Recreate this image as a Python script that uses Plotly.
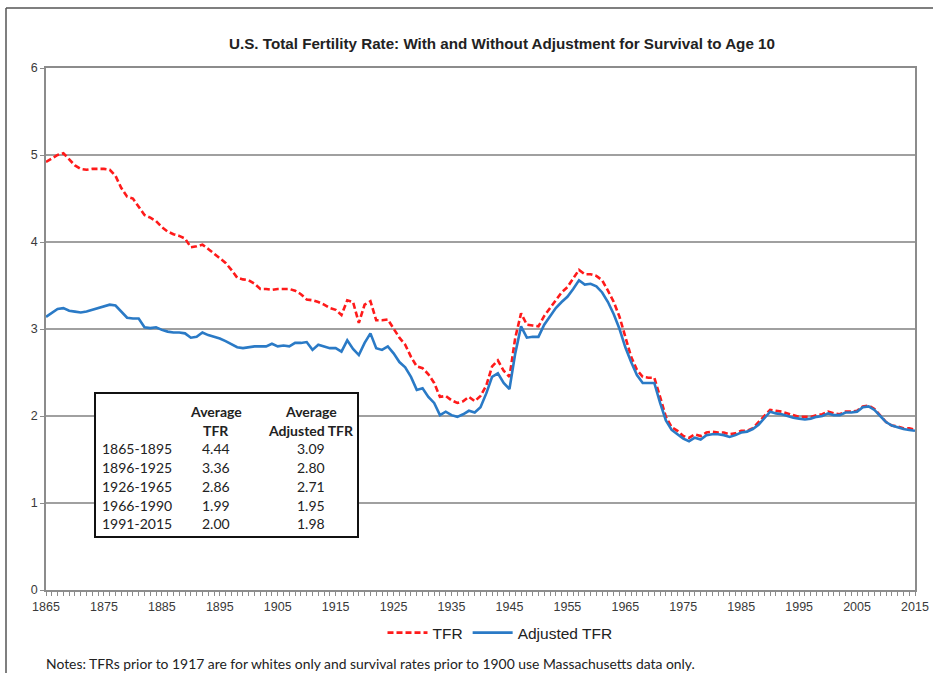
import plotly.graph_objects as go

years = list(range(1865, 2016))

tfr = [
    4.92, 4.96, 5.00, 5.02, 4.95, 4.88, 4.84, 4.83, 4.84, 4.84,  # 1865-1874
    4.84, 4.83, 4.76, 4.62, 4.52, 4.50, 4.40, 4.31, 4.28, 4.24,  # 1875-1884
    4.17, 4.12, 4.09, 4.07, 4.04, 3.94, 3.95, 3.97, 3.92, 3.87,  # 1885-1894
    3.82, 3.76, 3.68, 3.59, 3.57, 3.56, 3.52, 3.46, 3.46, 3.45,  # 1895-1904
    3.46, 3.46, 3.46, 3.44, 3.40, 3.34, 3.33, 3.31, 3.28, 3.24,  # 1905-1914
    3.22, 3.16, 3.33, 3.31, 3.07, 3.28, 3.32, 3.10, 3.10, 3.11,  # 1915-1924
    3.01, 2.90, 2.82, 2.68, 2.57, 2.55, 2.48, 2.38, 2.22, 2.23,  # 1925-1934
    2.18, 2.15, 2.17, 2.22, 2.17, 2.23, 2.35, 2.57, 2.64, 2.52,  # 1935-1944
    2.45, 2.90, 3.18, 3.05, 3.04, 3.03, 3.15, 3.24, 3.32, 3.42,  # 1945-1954
    3.48, 3.58, 3.68, 3.63, 3.63, 3.61, 3.56, 3.44, 3.31, 3.14,  # 1955-1964
    2.91, 2.68, 2.53, 2.45, 2.44, 2.44, 2.22, 1.99, 1.87, 1.83,  # 1965-1974
    1.77, 1.75, 1.79, 1.77, 1.81, 1.82, 1.81, 1.81, 1.79, 1.80,  # 1975-1984
    1.83, 1.83, 1.86, 1.93, 2.01, 2.07, 2.06, 2.05, 2.03, 2.01,  # 1985-1994
    1.99, 1.99, 1.99, 2.01, 2.02, 2.05, 2.03, 2.02, 2.05, 2.05,  # 1995-2004
    2.06, 2.11, 2.12, 2.08, 2.00, 1.93, 1.89, 1.88, 1.86, 1.86,  # 2005-2014
    1.84,                                                        # 2015
]

adjusted_tfr = [
    3.14, 3.18, 3.23, 3.24, 3.21, 3.20, 3.19, 3.20, 3.22, 3.24,  # 1865-1874
    3.26, 3.28, 3.27, 3.20, 3.13, 3.12, 3.12, 3.02, 3.01, 3.02,  # 1875-1884
    2.99, 2.97, 2.96, 2.96, 2.95, 2.90, 2.91, 2.96, 2.93, 2.91,  # 1885-1894
    2.89, 2.86, 2.82, 2.79, 2.78, 2.79, 2.80, 2.80, 2.80, 2.83,  # 1895-1904
    2.80, 2.81, 2.80, 2.84, 2.84, 2.85, 2.76, 2.82, 2.80, 2.78,  # 1905-1914
    2.78, 2.74, 2.87, 2.77, 2.70, 2.84, 2.95, 2.78, 2.76, 2.80,  # 1915-1924
    2.72, 2.62, 2.56, 2.45, 2.30, 2.32, 2.22, 2.15, 2.01, 2.05,  # 1925-1934
    2.01, 1.99, 2.02, 2.06, 2.04, 2.10, 2.26, 2.45, 2.49, 2.38,  # 1935-1944
    2.31, 2.72, 3.03, 2.90, 2.91, 2.91, 3.05, 3.15, 3.24, 3.31,  # 1945-1954
    3.37, 3.46, 3.56, 3.51, 3.52, 3.49, 3.42, 3.31, 3.17, 3.00,  # 1955-1964
    2.79, 2.62, 2.47, 2.38, 2.38, 2.38, 2.15, 1.95, 1.84, 1.79,  # 1965-1974
    1.74, 1.71, 1.75, 1.73, 1.78, 1.79, 1.79, 1.78, 1.76, 1.78,  # 1975-1984
    1.81, 1.82, 1.85, 1.90, 1.98, 2.05, 2.03, 2.02, 2.00, 1.98,  # 1985-1994
    1.97, 1.96, 1.97, 1.99, 2.00, 2.03, 2.01, 2.01, 2.04, 2.04,  # 1995-2004
    2.05, 2.10, 2.11, 2.07, 2.00, 1.93, 1.89, 1.87, 1.85, 1.84,  # 2005-2014
    1.83,                                                        # 2015
]

periods = ["1865-1895", "1896-1925", "1926-1965", "1966-1990", "1991-2015"]
avg_tfr = ["4.44", "3.36", "2.86", "1.99", "2.00"]
avg_adj_tfr = ["3.09", "2.80", "2.71", "1.95", "1.98"]

title_text = "U.S. Total Fertility Rate: With and Without Adjustment for Survival to Age 10"
notes_text = ("Notes: TFRs prior to 1917 are for whites only and survival rates prior to 1900 "
              "use Massachusetts data only.")

W, H = 933, 683
L, R, T, B = 46, 18, 68, 93
PW = W - L - R
PH = H - T - B


def px(x):
    return (x - L) / PW


def py(y):
    return (H - B - y) / PH


AX_FONT = dict(family="Liberation Sans, Arial, sans-serif", size=12.5, color="#3a3a3a")
TAB_FONT = dict(family="Lato, Open Sans, sans-serif", size=14, color="#222222")

fig = go.Figure()
fig.add_trace(go.Scatter(
    x=years, y=tfr, mode="lines", name="TFR",
    line=dict(color="#ff1a1a", width=2.6, dash="6px,3px"),
))
fig.add_trace(go.Scatter(
    x=years, y=adjusted_tfr, mode="lines", name="Adjusted TFR",
    line=dict(color="#2a7ac6", width=2.6),
))

shapes = []
# outer frame (top and left edges)
shapes.append(dict(type="line", xref="paper", yref="paper",
                   x0=px(6), x1=px(933), y0=py(8), y1=py(8),
                   line=dict(color="#555555", width=1.5)))
shapes.append(dict(type="line", xref="paper", yref="paper",
                   x0=px(6), x1=px(6), y0=py(8), y1=py(673),
                   line=dict(color="#555555", width=1.5)))
# table box
shapes.append(dict(type="rect", xref="paper", yref="paper",
                   x0=px(95), x1=px(358), y0=py(537), y1=py(393),
                   fillcolor="white", line=dict(color="#111111", width=2), layer="above"))

annotations = []
annotations.append(dict(text="<b>" + title_text + "</b>", xref="paper", yref="paper",
                        x=px(502), y=py(43), xanchor="center", yanchor="middle",
                        showarrow=False,
                        font=dict(family="Liberation Sans, Arial, sans-serif", size=15.2,
                                  color="#222222")))
annotations.append(dict(text=notes_text, xref="paper", yref="paper",
                        x=px(44), y=py(663), xanchor="left", yanchor="middle",
                        showarrow=False,
                        font=dict(family="Lato, Open Sans, sans-serif", size=13.9,
                                  color="#222222")))

# table header
col2_x, col3_x, col1_x = px(216), px(311), px(100)
for txt, yy in [("Average", 411), ("TFR", 430)]:
    annotations.append(dict(text="<b>" + txt + "</b>", xref="paper", yref="paper",
                            x=col2_x, y=py(yy), xanchor="center", yanchor="middle",
                            showarrow=False, font=TAB_FONT))
for txt, yy in [("Average", 411), ("Adjusted TFR", 430)]:
    annotations.append(dict(text="<b>" + txt + "</b>", xref="paper", yref="paper",
                            x=col3_x, y=py(yy), xanchor="center", yanchor="middle",
                            showarrow=False, font=TAB_FONT))
row_y = [449, 467.7, 486.4, 505.1, 523.8]
for p, a, b, yy in zip(periods, avg_tfr, avg_adj_tfr, row_y):
    annotations.append(dict(text=p, xref="paper", yref="paper", x=col1_x, y=py(yy),
                            xanchor="left", yanchor="middle", showarrow=False, font=TAB_FONT))
    annotations.append(dict(text=a, xref="paper", yref="paper", x=col2_x, y=py(yy),
                            xanchor="center", yanchor="middle", showarrow=False, font=TAB_FONT))
    annotations.append(dict(text=b, xref="paper", yref="paper", x=col3_x, y=py(yy),
                            xanchor="center", yanchor="middle", showarrow=False, font=TAB_FONT))

fig.update_layout(
    width=W, height=H, autosize=False,
    margin=dict(l=L, r=R, t=T, b=B, pad=0, autoexpand=False),
    paper_bgcolor="white", plot_bgcolor="white",
    showlegend=True,
    legend=dict(orientation="h", x=px(500), y=py(633), xanchor="center", yanchor="middle",
                font=dict(family="Liberation Sans, Arial, sans-serif", size=15.5, color="#222222"),
                bgcolor="rgba(0,0,0,0)", itemwidth=40, tracegroupgap=0),
    shapes=shapes,
    annotations=annotations,
    xaxis=dict(range=[1865, 2015], tick0=1865, dtick=10, tickmode="linear",
               showgrid=False, zeroline=False, automargin=False,
               showline=True, linecolor="#8c8c8c", linewidth=1.5, mirror=True,
               ticks="outside", ticklen=4, tickcolor="#8c8c8c", tickwidth=1,
               minor=dict(dtick=1, tick0=1865, ticks="outside", ticklen=4,
                          tickcolor="#8c8c8c", tickwidth=1, showgrid=False),
               tickfont=AX_FONT, fixedrange=True),
    yaxis=dict(range=[0, 6], dtick=1, tick0=0, showgrid=True, gridcolor="#a0a0a0", gridwidth=1.8,
               zeroline=False, automargin=False,
               showline=True, linecolor="#8c8c8c", linewidth=1.5, mirror=True,
               ticks="outside", ticklen=4, tickcolor="#8c8c8c", tickwidth=1,
               tickfont=AX_FONT, fixedrange=True),
)

post = (
    "document.documentElement.style.margin='0';"
    "document.documentElement.style.padding='0';"
    "document.documentElement.style.overflow='hidden';"
    "document.body.style.margin='0';"
    "document.body.style.padding='0';"
    "document.body.style.overflow='hidden';"
)

fig.write_html("out.html", config={"displayModeBar": False, "responsive": False},
               post_script=post)
